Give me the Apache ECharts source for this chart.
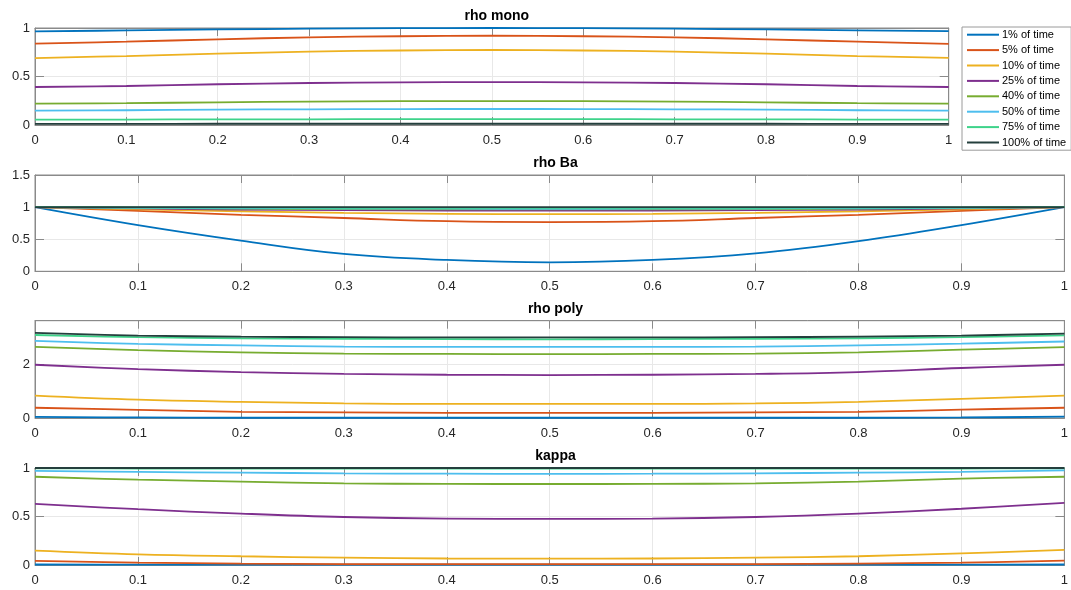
<!DOCTYPE html>
<html>
<head>
<meta charset="utf-8">
<script src="https://cdn.jsdelivr.net/npm/echarts@6/dist/echarts.min.js"></script>
<style>
html,body{margin:0;padding:0;background:#fff;}
#c{width:1071px;height:590px;}
</style>
</head>
<body>
<div id="c"></div>
<script>
// ---- data ----
var X = [0, 0.1, 0.2, 0.3, 0.4, 0.5, 0.6, 0.7, 0.8, 0.9, 1];
var seriesNames = ['1% of time', '5% of time', '10% of time', '25% of time', '40% of time', '50% of time', '75% of time', '100% of time'];
var panelTitles = ['rho mono', 'rho Ba', 'rho poly', 'kappa'];

var rhoMono1   = [0.965, 0.975, 0.985, 0.993, 0.998, 1.0, 0.998, 0.993, 0.985, 0.975, 0.968];
var rhoMono5   = [0.838, 0.859, 0.883, 0.904, 0.915, 0.92, 0.915, 0.904, 0.883, 0.859, 0.836];
var rhoMono10  = [0.69, 0.711, 0.735, 0.756, 0.768, 0.773, 0.768, 0.756, 0.735, 0.711, 0.692];
var rhoMono25  = [0.392, 0.402, 0.42, 0.433, 0.44, 0.443, 0.44, 0.433, 0.42, 0.402, 0.392];
var rhoMono40  = [0.22, 0.225, 0.234, 0.242, 0.246, 0.247, 0.246, 0.242, 0.234, 0.225, 0.22];
var rhoMono50  = [0.148, 0.152, 0.158, 0.162, 0.164, 0.165, 0.164, 0.162, 0.158, 0.152, 0.148];
var rhoMono75  = [0.055, 0.056, 0.058, 0.059, 0.06, 0.06, 0.06, 0.059, 0.058, 0.056, 0.055];
var rhoMono100 = [0.012, 0.012, 0.013, 0.013, 0.013, 0.013, 0.013, 0.013, 0.013, 0.012, 0.012];

var rhoBa1   = [1, 0.72, 0.478, 0.27, 0.177, 0.14, 0.177, 0.28, 0.47, 0.72, 1];
var rhoBa5   = [1, 0.94, 0.88, 0.83, 0.78, 0.766, 0.78, 0.83, 0.88, 0.94, 1];
var rhoBa10  = [1, 0.965, 0.935, 0.91, 0.895, 0.89, 0.895, 0.91, 0.935, 0.965, 1];
var rhoBa25  = [1, 0.98, 0.962, 0.952, 0.947, 0.945, 0.947, 0.952, 0.962, 0.98, 1];
var rhoBa40  = [1, 0.988, 0.975, 0.968, 0.965, 0.964, 0.965, 0.968, 0.975, 0.988, 1];
var rhoBa50  = [1, 0.99, 0.982, 0.977, 0.975, 0.974, 0.975, 0.977, 0.982, 0.99, 1];
var rhoBa75  = [1, 0.996, 0.992, 0.99, 0.989, 0.988, 0.989, 0.99, 0.992, 0.996, 1];
var rhoBa100 = [1, 1, 1, 1, 1, 1, 1, 1, 1, 1, 1];

var rhoPoly1   = [0.04, 0.02, 0.01, 0.01, 0.01, 0.01, 0.01, 0.01, 0.01, 0.02, 0.05];
var rhoPoly5   = [0.38, 0.30, 0.23, 0.21, 0.19, 0.19, 0.19, 0.21, 0.23, 0.31, 0.38];
var rhoPoly10  = [0.83, 0.68, 0.60, 0.54, 0.52, 0.52, 0.52, 0.54, 0.60, 0.71, 0.83];
var rhoPoly25  = [1.97, 1.81, 1.70, 1.63, 1.60, 1.59, 1.60, 1.63, 1.70, 1.85, 1.97];
var rhoPoly40  = [2.63, 2.51, 2.43, 2.38, 2.37, 2.36, 2.37, 2.38, 2.43, 2.53, 2.62];
var rhoPoly50  = [2.85, 2.74, 2.69, 2.64, 2.63, 2.63, 2.63, 2.64, 2.69, 2.75, 2.83];
var rhoPoly75  = [3.07, 2.99, 2.95, 2.93, 2.92, 2.91, 2.92, 2.93, 2.95, 2.99, 3.06];
var rhoPoly100 = [3.15, 3.05, 3.01, 2.99, 2.98, 2.98, 2.98, 2.99, 3.01, 3.05, 3.12];

var kappa1   = [0.005, 0.004, 0.003, 0.003, 0.003, 0.003, 0.003, 0.003, 0.003, 0.004, 0.005];
var kappa5   = [0.042, 0.025, 0.015, 0.01, 0.008, 0.008, 0.008, 0.01, 0.015, 0.025, 0.045];
var kappa10  = [0.148, 0.11, 0.09, 0.076, 0.067, 0.065, 0.067, 0.076, 0.09, 0.12, 0.155];
var kappa25  = [0.63, 0.575, 0.53, 0.495, 0.478, 0.475, 0.478, 0.495, 0.53, 0.58, 0.64];
var kappa40  = [0.91, 0.88, 0.86, 0.842, 0.836, 0.835, 0.836, 0.842, 0.86, 0.89, 0.91];
var kappa50  = [0.97, 0.96, 0.952, 0.945, 0.941, 0.94, 0.941, 0.945, 0.952, 0.96, 0.975];
var kappa75  = [0.996, 0.995, 0.994, 0.994, 0.994, 0.994, 0.994, 0.994, 0.994, 0.995, 0.996];
var kappa100 = [1, 1, 1, 1, 1, 1, 1, 1, 1, 1, 1];

var xTicks = [0, 0.1, 0.2, 0.3, 0.4, 0.5, 0.6, 0.7, 0.8, 0.9, 1];
var yRanges = [
  {min: 0, max: 1, interval: 0.5},
  {min: 0, max: 1.5, interval: 0.5},
  {min: 0, max: 3.6, interval: 2},
  {min: 0, max: 1, interval: 0.5}
];

// ---- styling/layout ----
var colors = ['#0072BD', '#D95319', '#EDB120', '#7E2F8E', '#77AC30', '#4DBEEE', '#3ED38A', '#243F3D'];
var panels = [
  [rhoMono1, rhoMono5, rhoMono10, rhoMono25, rhoMono40, rhoMono50, rhoMono75, rhoMono100],
  [rhoBa1, rhoBa5, rhoBa10, rhoBa25, rhoBa40, rhoBa50, rhoBa75, rhoBa100],
  [rhoPoly1, rhoPoly5, rhoPoly10, rhoPoly25, rhoPoly40, rhoPoly50, rhoPoly75, rhoPoly100],
  [kappa1, kappa5, kappa10, kappa25, kappa40, kappa50, kappa75, kappa100]
];
var gridBoxes = [
  {left: 35, right: 122.3, top: 28, height: 97},
  {left: 35, right: 5, top: 175, height: 96.3},
  {left: 35, right: 5, top: 320.7, height: 97.3},
  {left: 35, right: 5, top: 468, height: 97}
];
var axisGrey = '#8a8a8a';
var font = 'Liberation Sans, Arial, Helvetica, sans-serif';

var grids = [], xAxes = [], yAxes = [], series = [], titles = [];
gridBoxes.forEach(function (g, i) {
  grids.push({left: g.left, right: g.right, top: g.top, height: g.height, show: true,
    borderColor: axisGrey, borderWidth: 1, backgroundColor: '#fff'});
  var xBase = {
    type: 'value', gridIndex: i, min: 0, max: 1, interval: 0.1,
    axisLine: {show: true, onZero: false, lineStyle: {color: axisGrey, width: 1}},
    axisTick: {show: true, inside: true, length: 8, lineStyle: {color: axisGrey}},
    splitLine: {show: false}
  };
  xAxes.push(Object.assign({}, xBase, {
    position: 'bottom',
    axisLabel: {show: true, color: '#262626', fontFamily: font, fontSize: 13, margin: 9,
      formatter: function (v) { return xTicks.indexOf(Math.round(v * 10) / 10) >= 0 ? String(Math.round(v * 10) / 10) : ''; }},
    splitLine: {show: true, lineStyle: {color: '#e8e8e8', width: 1}}
  }));
  xAxes.push(Object.assign({}, xBase, {position: 'top', axisLabel: {show: false}}));
  var r = yRanges[i];
  var yBase = {
    type: 'value', gridIndex: i, min: r.min, max: r.max, interval: r.interval,
    axisLine: {show: true, onZero: false, lineStyle: {color: axisGrey, width: 1}},
    axisTick: {show: true, inside: true, length: 9, lineStyle: {color: axisGrey}},
    splitLine: {show: false}
  };
  yAxes.push(Object.assign({}, yBase, {
    position: 'left',
    axisLabel: {show: true, color: '#262626', fontFamily: font, fontSize: 13, margin: 5,
      formatter: function (v) {
        var k = Math.round(v / r.interval * 1000) / 1000;
        if (Math.abs(k - Math.round(k)) > 1e-6) return '';
        return String(Math.round(v * 100) / 100);
      }},
    splitLine: {show: true, lineStyle: {color: '#e8e8e8', width: 1}}
  }));
  yAxes.push(Object.assign({}, yBase, {position: 'right', axisLabel: {show: false}}));

  titles.push({
    text: panelTitles[i],
    left: g.left + (1071 - g.left - g.right) / 2,
    top: g.top - 23.5,
    textAlign: 'center',
    textStyle: {fontFamily: font, fontSize: 14, fontWeight: 'bold', color: '#000'}
  });

  panels[i].forEach(function (vals, j) {
    series.push({
      name: seriesNames[j], type: 'line',
      xAxisIndex: i * 2, yAxisIndex: i * 2,
      data: X.map(function (x, k) { return [x, vals[k]]; }),
      smooth: 0.4, showSymbol: false, symbol: 'none',
      lineStyle: {width: 1.8, color: colors[j]},
      itemStyle: {color: colors[j]},
      animation: false
    });
  });
});

var chart = echarts.init(document.getElementById('c'), null, {renderer: 'canvas'});
chart.setOption({
  animation: false,
  backgroundColor: '#fff',
  color: colors,
  title: titles,
  grid: grids,
  xAxis: xAxes,
  yAxis: yAxes,
  legend: {
    data: seriesNames,
    orient: 'vertical',
    left: 962, top: 27,
    width: 106,
    padding: [0, 5],
    itemGap: 0,
    itemWidth: 32, itemHeight: 2,
    icon: 'rect',
    backgroundColor: '#fff',
    borderColor: '#9a9a9a', borderWidth: 1,
    selectedMode: false,
    textStyle: {fontFamily: font, fontSize: 11, color: '#000', lineHeight: 15.4, padding: [0, 0, 0, -2]}
  },
  series: series
});
</script>
</body>
</html>
